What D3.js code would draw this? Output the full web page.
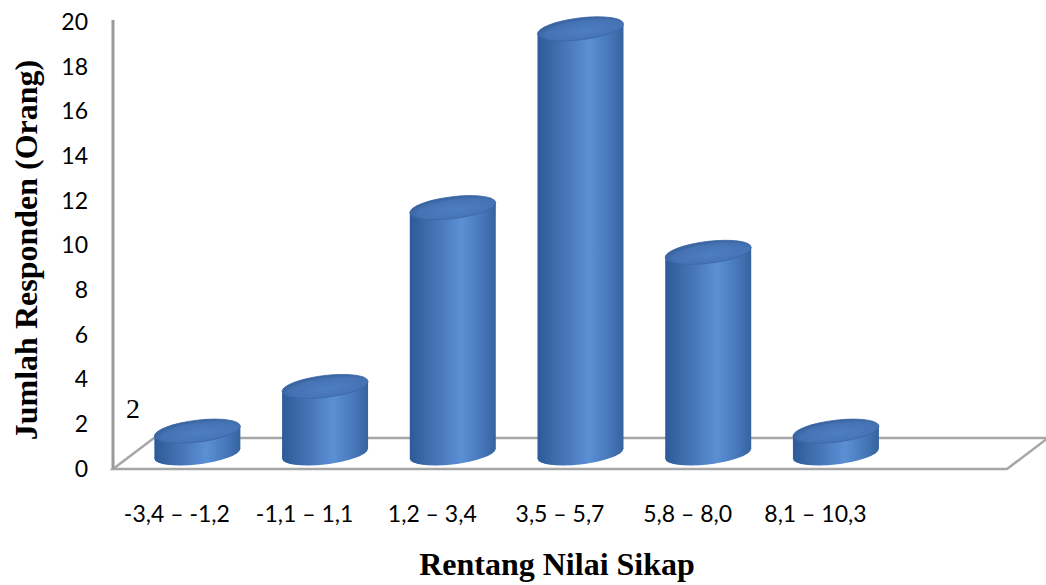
<!DOCTYPE html>
<html lang="en">
    <head>
        <meta charset="utf-8">
        <title>Rentang Nilai Sikap</title>
        <script type="text/javascript" src="https://d3js.org/d3.v7.min.js"></script>
        <style type="text/css">
            body { margin: 0; background: white; }
            .tick text { font-family: Lato, sans-serif; font-size: 23px; fill: black; }
            .title { font-family: "Liberation Serif", "Times New Roman", serif; font-weight: bold; }
        </style>
    </head>
    <body>
        <script type="text/javascript">

        // Data
        var categories = ["-3,4 \u2013 -1,2", "-1,1 \u2013 1,1", "1,2 \u2013 3,4", "3,5 \u2013 5,7", "5,8 \u2013 8,0", "8,1 \u2013 10,3", ""];
        var values = [1, 3, 11, 19, 9, 1, null];
        var yTicks = [0, 2, 4, 6, 8, 10, 12, 14, 16, 18, 20];

        var w = 1046;
        var h = 585;

        // front plane of the floor and the depth shift of the 3D box
        var x0 = 113, x1 = 1007;
        var depthX = 41, depthY = -31;

        var x = d3.scaleBand()
                  .domain(categories)
                  .range([x0, x1]);

        var y = d3.scaleLinear()
                  .domain([0, 20])
                  .range([469, 22]);

        var svg = d3.select("body")
                    .append("svg")
                    .attr("width", w)
                    .attr("height", h);

        var defs = svg.append("defs");

        var body = defs.append("linearGradient")
                       .attr("id", "cyl")
                       .attr("x1", "0").attr("x2", "1")
                       .attr("y1", "0").attr("y2", "0");
        body.append("stop").attr("offset", "0%").attr("stop-color", "#2d5b98");
        body.append("stop").attr("offset", "25%").attr("stop-color", "#416fb0");
        body.append("stop").attr("offset", "60%").attr("stop-color", "#5b90d5");
        body.append("stop").attr("offset", "85%").attr("stop-color", "#4576b8");
        body.append("stop").attr("offset", "100%").attr("stop-color", "#35639f");

        var cap = defs.append("radialGradient")
                      .attr("id", "cap")
                      .attr("cx", "55%").attr("cy", "60%").attr("r", "60%");
        cap.append("stop").attr("offset", "0%").attr("stop-color", "#4d7ec3");
        cap.append("stop").attr("offset", "75%").attr("stop-color", "#4572b3");
        cap.append("stop").attr("offset", "100%").attr("stop-color", "#365f9c");

        // Floor and axis line
        var grey = "#a6a6a6";
        svg.append("path")
           .attr("d", "M" + x0 + "," + y(0) + "L" + x1 + "," + y(0) +
                      "L" + (x1 + depthX) + "," + (y(0) + depthY) +
                      "L" + (x0 + depthX) + "," + (y(0) + depthY) + "Z")
           .attr("fill", "none")
           .attr("stroke", grey)
           .attr("stroke-width", 2.5);

        svg.append("line")
           .attr("x1", x0).attr("x2", x0)
           .attr("y1", y(20) - 2).attr("y2", y(0))
           .attr("stroke", "#9a9a9a")
           .attr("stroke-width", 3);

        // Y axis labels
        svg.append("g")
           .attr("transform", "translate(" + x0 + ",0)")
           .call(d3.axisLeft(y).tickValues(yTicks).tickSize(0).tickPadding(25))
           .call(function(g){ g.select(".domain").remove(); });

        // X axis labels
        svg.append("g")
           .attr("transform", "translate(0," + y(0) + ")")
           .call(d3.axisBottom(x).tickSize(0).tickPadding(37))
           .call(function(g){ g.select(".domain").remove(); });

        // Cylinders sit in the middle of the depth
        var rx = 43, ry = 11;
        var shear = -6.5;
        var data = values.map(function(v, i){ return {cat: categories[i], v: v}; })
                         .filter(function(d){ return d.v != null; });

        var bars = svg.selectAll("g.bar")
                      .data(data)
                      .enter()
                      .append("g")
                      .attr("class", "bar")
                      .attr("transform", function(d){
                          var cx = x(d.cat) + x.bandwidth() / 2 + depthX / 2;
                          var cy = y(0) + depthY / 2;
                          return "translate(" + cx + "," + cy + ") skewY(" + shear + ")";
                      });

        bars.append("ellipse")
            .attr("cx", 0).attr("cy", 0)
            .attr("rx", rx).attr("ry", ry)
            .attr("fill", "url(#cyl)");

        bars.append("rect")
            .attr("x", -rx)
            .attr("width", 2 * rx)
            .attr("y", function(d){ return y(d.v) - y(0); })
            .attr("height", function(d){ return y(0) - y(d.v); })
            .attr("fill", "url(#cyl)");

        bars.append("ellipse")
            .attr("cx", 0)
            .attr("cy", function(d){ return y(d.v) - y(0); })
            .attr("rx", rx).attr("ry", ry)
            .attr("fill", "url(#cap)")
            .attr("stroke", "#3a67a6")
            .attr("stroke-width", 0.8);

        // stray label in the original
        svg.append("text")
           .attr("x", 133)
           .attr("y", 418)
           .attr("text-anchor", "middle")
           .style("font-family", "'Liberation Serif', serif")
           .style("font-size", "28px")
           .text("2");

        // Titles
        svg.append("text")
           .attr("class", "title")
           .attr("transform", "translate(37,250) rotate(-90)")
           .attr("text-anchor", "middle")
           .style("font-size", "32px")
           .text("Jumlah Responden (Orang)");

        svg.append("text")
           .attr("class", "title")
           .attr("x", 557)
           .attr("y", 575)
           .attr("text-anchor", "middle")
           .style("font-size", "32px")
           .text("Rentang Nilai Sikap");

        </script>
    </body>
</html>
